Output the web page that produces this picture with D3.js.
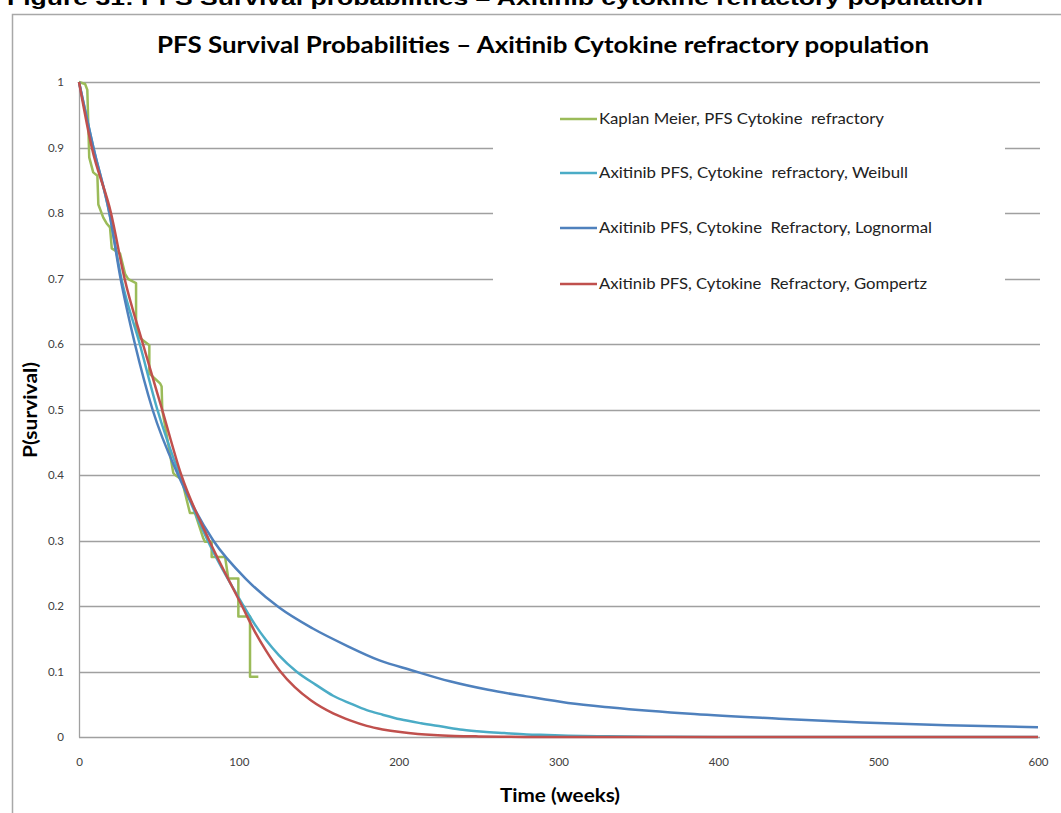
<!DOCTYPE html>
<html>
<head>
<meta charset="utf-8">
<script src="https://cdn.jsdelivr.net/npm/d3@7/dist/d3.min.js"></script>
<style>
  html, body { margin: 0; padding: 0; background: #fff; }
  svg { display: block; }
  .legend-label { white-space: pre; }
</style>
</head>
<body>
<svg id="chart" width="1061" height="813"></svg>
<script>
// Kaplan-Meier step estimate (weeks, survival probability)
const kmTime = [0, 3.8, 5.2, 6.4, 8.9, 11.5, 12.1, 15.2, 17.3, 19.4, 20.5, 25.7, 28.8, 30.8, 35.7, 35.7, 38.2, 44.0, 44.0, 50.7, 51.7, 52.1, 59.0, 60.1, 64.3, 68.4, 69.4, 72.6, 77.8, 78.8, 83.0, 83.0, 91.4, 93.4, 99.7, 99.7, 107.0, 107.0, 112.2];
const kmSurv = [1, 0.997, 0.988, 0.885, 0.862, 0.857, 0.813, 0.793, 0.784, 0.778, 0.746, 0.738, 0.707, 0.699, 0.693, 0.626, 0.609, 0.598, 0.555, 0.540, 0.535, 0.499, 0.403, 0.400, 0.393, 0.352, 0.342, 0.342, 0.303, 0.298, 0.298, 0.275, 0.275, 0.242, 0.242, 0.184, 0.184, 0.092, 0.092];

// Weibull fit
const weibullTime = [0, 9, 19, 26.5, 38, 49, 63, 80.5, 103, 110, 117, 125, 136, 148, 159, 170, 180, 190, 201, 214, 227, 240, 253, 266, 280, 293, 306, 330, 360, 400, 600];
const weibullSurv = [1, 0.9, 0.8, 0.7, 0.6, 0.5, 0.4, 0.3, 0.2, 0.172, 0.148, 0.125, 0.100, 0.080, 0.063, 0.051, 0.041, 0.034, 0.027, 0.021, 0.016, 0.011, 0.008, 0.006, 0.004, 0.003, 0.002, 0.001, 0.0005, 0, 0];

// Lognormal fit
const lognormalTime = [0, 9, 19, 26, 35, 46, 62, 84, 105, 125, 146, 167, 188, 208, 232, 256, 280, 306, 333, 385, 438, 490, 543, 600];
const lognormalSurv = [1, 0.9, 0.8, 0.7, 0.6, 0.5, 0.4, 0.3, 0.240, 0.198, 0.166, 0.140, 0.117, 0.102, 0.085, 0.072, 0.062, 0.052, 0.045, 0.035, 0.028, 0.022, 0.018, 0.015];

// Gompertz fit
const gompertzTime = [0, 8, 20, 28.5, 40, 52, 64, 81.5, 102, 110, 117, 126, 135, 145, 159, 170, 180, 190, 201, 212, 222, 235, 250, 270, 300, 600];
const gompertzSurv = [1, 0.9, 0.8, 0.7, 0.6, 0.5, 0.4, 0.3, 0.2, 0.161, 0.132, 0.100, 0.076, 0.056, 0.036, 0.025, 0.017, 0.0116, 0.0075, 0.0047, 0.003, 0.0017, 0.0009, 0.0003, 0, 0];

const seriesNames = [
  "Kaplan Meier, PFS Cytokine  refractory",
  "Axitinib PFS, Cytokine  refractory, Weibull",
  "Axitinib PFS, Cytokine  Refractory, Lognormal",
  "Axitinib PFS, Cytokine  Refractory, Gompertz"
];
const seriesColors = ["#9BBB59", "#4BACC6", "#4F81BD", "#C0504D"];
const legendWidths = [285, 309, 333, 328];

const xTicks = [0, 100, 200, 300, 400, 500, 600];
const yTicks = [0, 0.1, 0.2, 0.3, 0.4, 0.5, 0.6, 0.7, 0.8, 0.9, 1];

const captionText = "Figure 31: PFS Survival probabilities \u2013 Axitinib cytokine refractory population";
const titleText = "PFS Survival Probabilities \u2013 Axitinib  Cytokine refractory population";
const xTitle = "Time (weeks)";
const yTitle = "P(survival)";

const svg = d3.select("#chart");
const x = d3.scaleLinear().domain([0, 600]).range([79, 1038]);
const y = d3.scaleLinear().domain([0, 1]).range([737, 82]);

const labelFont = "Lato, 'Open Sans', sans-serif";

// Document caption, running off the top of the page
svg.append("text")
  .attr("x", 7).attr("y", 5)
  .attr("font-family", "'Liberation Sans', Arial, sans-serif")
  .attr("font-weight", "bold").attr("font-size", 20)
  .attr("textLength", 976).attr("lengthAdjust", "spacingAndGlyphs")
  .attr("fill", "#000")
  .text(captionText);

// Chart area frame
svg.append("rect")
  .attr("x", 12.5).attr("y", 14.5).attr("width", 1100).attr("height", 900)
  .attr("fill", "#fff").attr("stroke", "#A8A8A8").attr("stroke-width", 1.5);

// Chart title
svg.append("text")
  .attr("x", 543).attr("y", 53).attr("text-anchor", "middle")
  .attr("font-family", labelFont).attr("font-weight", "bold").attr("font-size", 22)
  .attr("textLength", 772).attr("lengthAdjust", "spacingAndGlyphs")
  .attr("fill", "#000")
  .text(titleText);

// Horizontal gridlines
const grid = svg.append("g").attr("class", "grid");
grid.selectAll("line").data(yTicks.filter(d => d > 0)).join("line")
  .attr("x1", x(0)).attr("x2", 1040)
  .attr("y1", d => Math.round(y(d)) + 0.5).attr("y2", d => Math.round(y(d)) + 0.5)
  .attr("stroke", "#A0A0A0").attr("stroke-width", 1.3);

// Y axis
const yAxis = d3.axisLeft(y).tickValues(yTicks).tickSize(0).tickPadding(15)
  .tickFormat(d => d === 0 ? "0" : d === 1 ? "1" : d3.format(".1f")(d));
const gy = svg.append("g").attr("transform", `translate(${x(0)},0)`).call(yAxis);
gy.select(".domain").attr("stroke", "#A0A0A0").attr("stroke-width", 1.3);
gy.selectAll("text").attr("font-family", labelFont).attr("font-size", 11.5).attr("fill", "#404040");

// X axis
const xAxis = d3.axisBottom(x).tickValues(xTicks).tickSize(0).tickPadding(20);
const gx = svg.append("g").attr("transform", `translate(0,${Math.round(y(0)) + 0.5})`).call(xAxis);
gx.select(".domain").attr("stroke", "#A0A0A0").attr("stroke-width", 1.3).attr("d", `M${x(0)},0H1040`);
gx.selectAll("text").attr("font-family", labelFont).attr("font-size", 11.5).attr("fill", "#404040");

// Axis titles
svg.append("text")
  .attr("transform", "translate(37,410) rotate(-90)").attr("text-anchor", "middle")
  .attr("font-family", labelFont).attr("font-weight", "bold").attr("font-size", 18)
  .attr("textLength", 96).attr("lengthAdjust", "spacingAndGlyphs")
  .attr("fill", "#000").text(yTitle);
svg.append("text")
  .attr("x", 560).attr("y", 802).attr("text-anchor", "middle")
  .attr("font-family", labelFont).attr("font-weight", "bold").attr("font-size", 19)
  .attr("textLength", 120).attr("lengthAdjust", "spacingAndGlyphs")
  .attr("fill", "#000").text(xTitle);

// Legend panel
const legendRows = [119, 173, 228, 284];
svg.append("rect")
  .attr("x", 493).attr("y", 95).attr("width", 512).attr("height", 215)
  .attr("fill", "#fff");
const legend = svg.append("g");
seriesNames.forEach((name, i) => {
  legend.append("line")
    .attr("x1", 560).attr("x2", 597)
    .attr("y1", legendRows[i]).attr("y2", legendRows[i])
    .attr("stroke", seriesColors[i]).attr("stroke-width", 2.5);
  legend.append("text")
    .attr("class", "legend-label")
    .attr("x", 599).attr("y", legendRows[i] + 5)
    .attr("font-family", labelFont).attr("font-size", 15)
    .attr("textLength", legendWidths[i]).attr("lengthAdjust", "spacingAndGlyphs")
    .attr("fill", "#222").text(name);
});

// Curves
const pairs = (ts, ps) => ts.map((t, i) => [t, ps[i]]);
const smooth = d3.line().x(d => x(d[0])).y(d => y(d[1])).curve(d3.curveMonotoneX);
const straight = d3.line().x(d => x(d[0])).y(d => y(d[1]));

const plot = svg.append("g").attr("fill", "none").attr("stroke-width", 2.5)
  .attr("stroke-linejoin", "round").attr("stroke-linecap", "butt");
plot.append("path").attr("d", straight(pairs(kmTime, kmSurv))).attr("stroke", seriesColors[0]);
plot.append("path").attr("d", smooth(pairs(weibullTime, weibullSurv))).attr("stroke", seriesColors[1]);
plot.append("path").attr("d", smooth(pairs(lognormalTime, lognormalSurv))).attr("stroke", seriesColors[2]);
plot.append("path").attr("d", smooth(pairs(gompertzTime, gompertzSurv))).attr("stroke", seriesColors[3]);
</script>
</body>
</html>
